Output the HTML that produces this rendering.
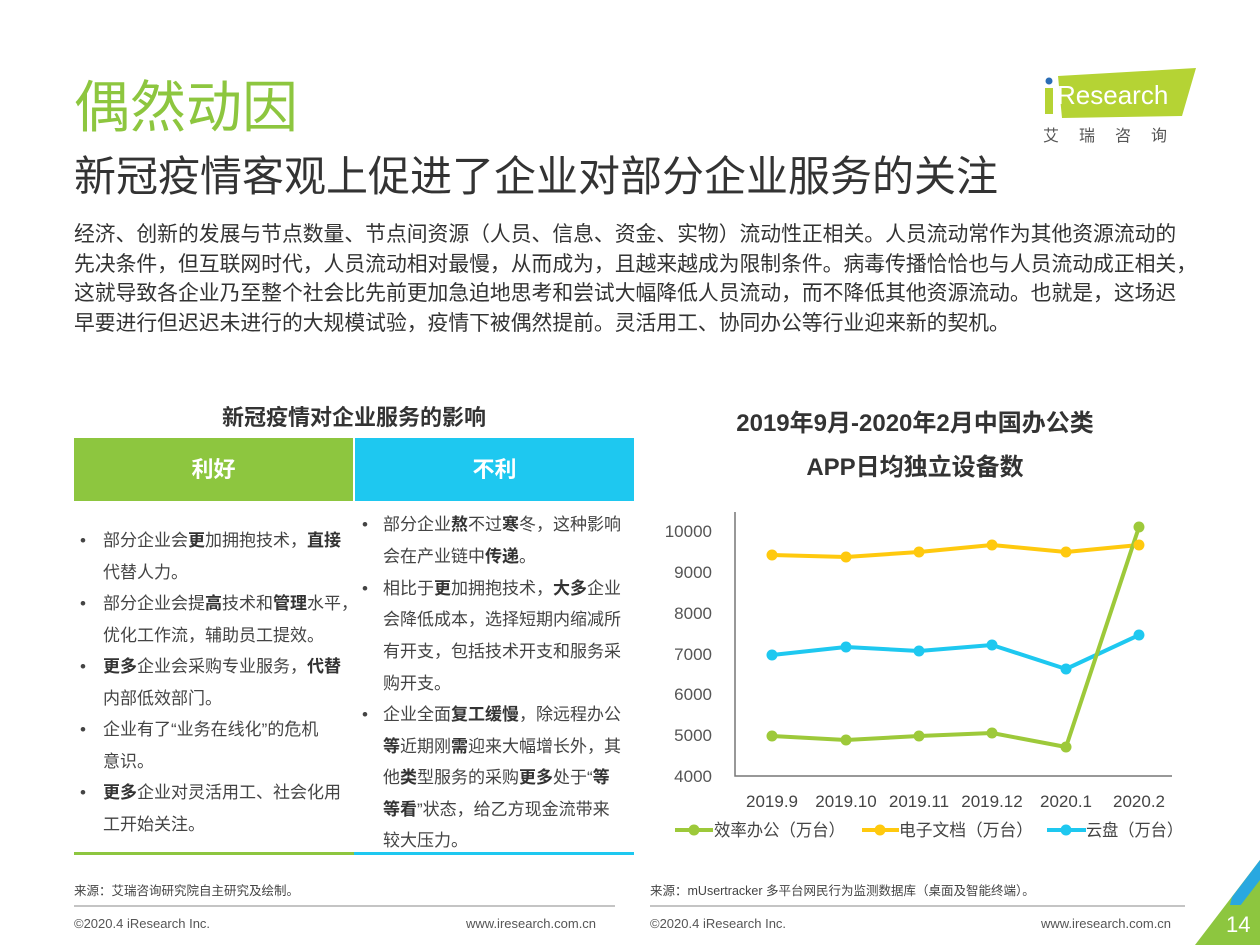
<!DOCTYPE html>
<html><head><meta charset="utf-8"><style>
body{margin:0;width:1260px;height:945px;position:relative;background:#fff;overflow:hidden;font-family:"Liberation Sans","Noto Sans CJK SC",sans-serif;color:#333}
.a{position:absolute;white-space:nowrap}
.l{position:absolute;white-space:nowrap;font-size:17px;color:#444;height:30px;line-height:30px}
b{font-weight:bold;color:#333}
</style></head><body>
<div class="a" style="left:74px;top:70px;font-size:56px;line-height:76px;color:#8dc63f">偶然动因</div>
<div class="a" style="left:74px;top:150px;font-size:42px;line-height:54px;color:#333">新冠疫情客观上促进了企业对部分企业服务的关注</div>
<div class="a" style="left:74px;top:220px;font-size:20.8px;line-height:29.7px;color:#333">经济、创新的发展与节点数量、节点间资源（人员、信息、资金、实物）流动性正相关。人员流动常作为其他资源流动的<br>先决条件，但互联网时代，人员流动相对最慢，从而成为，且越来越成为限制条件。病毒传播恰恰也与人员流动成正相关，<br>这就导致各企业乃至整个社会比先前更加急迫地思考和尝试大幅降低人员流动，而不降低其他资源流动。也就是，这场迟<br>早要进行但迟迟未进行的大规模试验，疫情下被偶然提前。灵活用工、协同办公等行业迎来新的契机。</div>

<svg class="a" style="left:1040px;top:64px" width="160" height="60"><polygon points="18,12 156,4 142,52 22,54" fill="#b5d334"/><circle cx="9" cy="17" r="3.5" fill="#2a6db5"/><rect x="5" y="24" width="8" height="26" fill="#b5d334"/><text x="17" y="40" font-size="26" fill="#fff" font-family="Liberation Sans">Research</text></svg>
<div class="a" style="left:1043px;top:122px;font-size:16px;color:#555;letter-spacing:20px">艾瑞咨询</div>

<div class="a" style="left:74px;top:400px;width:560px;text-align:center;font-size:22px;font-weight:bold;color:#333;line-height:36px">新冠疫情对企业服务的影响</div>
<div class="a" style="left:74px;top:438px;width:279px;height:63px;background:#8dc63f;color:#fff;font-size:22px;font-weight:bold;text-align:center;line-height:63px">利好</div>
<div class="a" style="left:355px;top:438px;width:279px;height:63px;background:#1ec8f0;color:#fff;font-size:22px;font-weight:bold;text-align:center;line-height:63px">不利</div>
<div class="a" style="left:74px;top:852px;width:280px;height:3px;background:#8dc63f"></div>
<div class="a" style="left:354px;top:852px;width:280px;height:3px;background:#1ec8f0"></div>

<div class="l" style="left:80px;top:526px">•</div><div class="l" style="left:103px;top:526px">部分企业会<b>更</b>加拥抱技术，<b>直接</b></div>
<div class="l" style="left:103px;top:558px">代替人力。</div>
<div class="l" style="left:80px;top:589px">•</div><div class="l" style="left:103px;top:589px">部分企业会提<b>高</b>技术和<b>管理</b>水平，</div>
<div class="l" style="left:103px;top:621px">优化工作流，辅助员工提效。</div>
<div class="l" style="left:80px;top:652px">•</div><div class="l" style="left:103px;top:652px"><b>更多</b>企业会采购专业服务，<b>代替</b></div>
<div class="l" style="left:103px;top:684px">内部低效部门。</div>
<div class="l" style="left:80px;top:715px">•</div><div class="l" style="left:103px;top:715px">企业有了“业务在线化”的危机</div>
<div class="l" style="left:103px;top:747px">意识。</div>
<div class="l" style="left:80px;top:778px">•</div><div class="l" style="left:103px;top:778px"><b>更多</b>企业对灵活用工、社会化用</div>
<div class="l" style="left:103px;top:810px">工开始关注。</div>

<div class="l" style="left:362px;top:510px">•</div><div class="l" style="left:383px;top:510px">部分企业<b>熬</b>不过<b>寒</b>冬，这种影响</div>
<div class="l" style="left:383px;top:542px">会在产业链中<b>传递</b>。</div>
<div class="l" style="left:362px;top:574px">•</div><div class="l" style="left:383px;top:574px">相比于<b>更</b>加拥抱技术，<b>大多</b>企业</div>
<div class="l" style="left:383px;top:605px">会降低成本，选择短期内缩减所</div>
<div class="l" style="left:383px;top:637px">有开支，包括技术开支和服务采</div>
<div class="l" style="left:383px;top:669px">购开支。</div>
<div class="l" style="left:362px;top:700px">•</div><div class="l" style="left:383px;top:700px">企业全面<b>复工缓慢</b>，除远程办公</div>
<div class="l" style="left:383px;top:732px"><b>等</b>近期刚<b>需</b>迎来大幅增长外，其</div>
<div class="l" style="left:383px;top:763px">他<b>类</b>型服务的采购<b>更多</b>处于“<b>等</b></div>
<div class="l" style="left:383px;top:795px"><b>等看</b>”状态，给乙方现金流带来</div>
<div class="l" style="left:383px;top:826px">较大压力。</div>

<div class="a" style="left:650px;top:402px;width:530px;text-align:center;font-size:24px;font-weight:bold;color:#333;line-height:44px">2019年9月-2020年2月中国办公类<br>APP日均独立设备数</div>

<svg class="a" style="left:0;top:0" width="1260" height="945" font-family="Liberation Sans,Noto Sans CJK SC,sans-serif">
<g fill="#555" font-size="17" text-anchor="end">
<text x="712" y="537">10000</text><text x="712" y="578">9000</text><text x="712" y="619">8000</text><text x="712" y="660">7000</text><text x="712" y="700">6000</text><text x="712" y="741">5000</text><text x="712" y="782">4000</text>
</g>
<path d="M735 512V776H1172" fill="none" stroke="#777" stroke-width="1.5"/>
<g fill="#444" font-size="17" text-anchor="middle">
<text x="772" y="807">2019.9</text><text x="846" y="807">2019.10</text><text x="919" y="807">2019.11</text><text x="992" y="807">2019.12</text><text x="1066" y="807">2020.1</text><text x="1139" y="807">2020.2</text>
</g>
<g stroke-width="4" fill="none" stroke-linejoin="round">
<polyline stroke="#ffc90e" points="772,555 846,557 919,552 992,545 1066,552 1139,545"/>
<polyline stroke="#1ec8f0" points="772,655 846,647 919,651 992,645 1066,669 1139,635"/>
<polyline stroke="#9dc93a" points="772,736 846,740 919,736 992,733 1066,747 1139,527"/>
</g>
<g fill="#ffc90e"><circle cx="772" cy="555" r="5.5"/><circle cx="846" cy="557" r="5.5"/><circle cx="919" cy="552" r="5.5"/><circle cx="992" cy="545" r="5.5"/><circle cx="1066" cy="552" r="5.5"/><circle cx="1139" cy="545" r="5.5"/></g>
<g fill="#1ec8f0"><circle cx="772" cy="655" r="5.5"/><circle cx="846" cy="647" r="5.5"/><circle cx="919" cy="651" r="5.5"/><circle cx="992" cy="645" r="5.5"/><circle cx="1066" cy="669" r="5.5"/><circle cx="1139" cy="635" r="5.5"/></g>
<g fill="#9dc93a"><circle cx="772" cy="736" r="5.5"/><circle cx="846" cy="740" r="5.5"/><circle cx="919" cy="736" r="5.5"/><circle cx="992" cy="733" r="5.5"/><circle cx="1066" cy="747" r="5.5"/><circle cx="1139" cy="527" r="5.5"/></g>
<g stroke-width="4"><line x1="675" y1="830" x2="713" y2="830" stroke="#9dc93a"/><line x1="862" y1="830" x2="899" y2="830" stroke="#ffc90e"/><line x1="1047" y1="830" x2="1086" y2="830" stroke="#1ec8f0"/></g>
<circle cx="694" cy="830" r="5.5" fill="#9dc93a"/><circle cx="880" cy="830" r="5.5" fill="#ffc90e"/><circle cx="1066" cy="830" r="5.5" fill="#1ec8f0"/>
<g fill="#444" font-size="17"><text x="714" y="836" textLength="131" lengthAdjust="spacingAndGlyphs">效率办公（万台）</text><text x="899" y="836" textLength="134" lengthAdjust="spacingAndGlyphs">电子文档（万台）</text><text x="1086" y="836" textLength="97" lengthAdjust="spacingAndGlyphs">云盘（万台）</text></g>
<line x1="74" y1="906" x2="615" y2="906" stroke="#888" stroke-width="1"/>
<line x1="650" y1="906" x2="1185" y2="906" stroke="#888" stroke-width="1"/>
<polygon points="1260,860 1260,945 1195,945" fill="#8dc63f"/>
<polygon points="1260,860 1260,905 1230,905 1232,897" fill="#29a8e0"/>
<polygon points="1260,880 1260,945 1210,945" fill="#8dc63f"/>
<text x="1226" y="932" font-size="22" fill="#fff">14</text>
</svg>
<div class="a" style="left:74px;top:880px;font-size:12.5px;color:#444">来源：艾瑞咨询研究院自主研究及绘制。</div>
<div class="a" style="left:650px;top:880px;font-size:12.5px;color:#444">来源：mUsertracker 多平台网民行为监测数据库（桌面及智能终端）。</div>
<div class="a" style="left:74px;top:916px;font-size:13px;color:#555">©2020.4 iResearch Inc.</div>
<div class="a" style="left:466px;top:916px;font-size:13px;color:#555">www.iresearch.com.cn</div>
<div class="a" style="left:650px;top:916px;font-size:13px;color:#555">©2020.4 iResearch Inc.</div>
<div class="a" style="left:1041px;top:916px;font-size:13px;color:#555">www.iresearch.com.cn</div>
</body></html>
